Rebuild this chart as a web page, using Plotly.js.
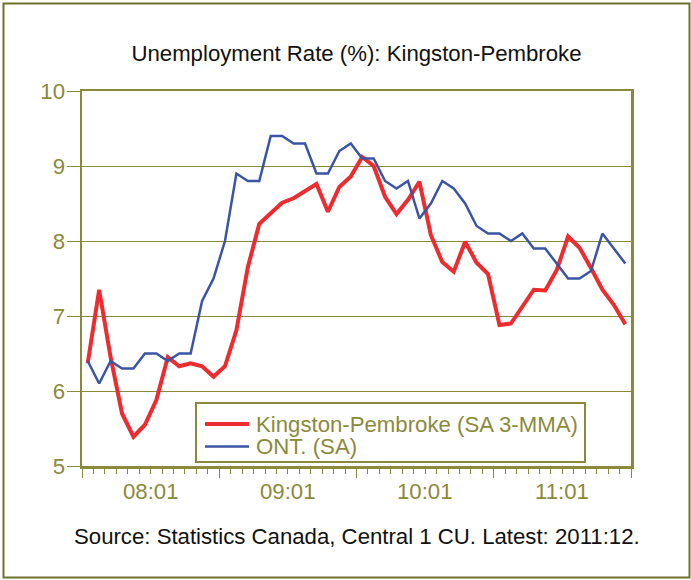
<!DOCTYPE html>
<html>
<head>
<meta charset="utf-8">
<script src="https://cdn.plot.ly/plotly-3.0.1.min.js"></script>
<style>
  html, body { margin: 0; padding: 0; background: #ffffff; }
  #chart { width: 691px; height: 580px; }
</style>
</head>
<body>
<div id="chart"></div>
<script>
// Monthly categories, 2008:01 .. 2011:12
const months = [
  '08:01','08:02','08:03','08:04','08:05','08:06','08:07','08:08','08:09','08:10','08:11','08:12',
  '09:01','09:02','09:03','09:04','09:05','09:06','09:07','09:08','09:09','09:10','09:11','09:12',
  '10:01','10:02','10:03','10:04','10:05','10:06','10:07','10:08','10:09','10:10','10:11','10:12',
  '11:01','11:02','11:03','11:04','11:05','11:06','11:07','11:08','11:09','11:10','11:11','11:12'
];
const tickLabels = ['08:01','09:01','10:01','11:01'];
const seriesNames = ['Kingston-Pembroke (SA 3-MMA)', 'ONT. (SA)'];

const kingston = [
  6.37, 7.35, 6.45, 5.70, 5.39, 5.55, 5.88, 6.45, 6.33, 6.37, 6.33, 6.19,
  6.33, 6.81, 7.65, 8.23, 8.37, 8.51, 8.57, 8.66, 8.76, 8.39, 8.72, 8.86,
  9.12, 9.00, 8.59, 8.36, 8.55, 8.79, 8.08, 7.72, 7.59, 7.99, 7.71, 7.56,
  6.88, 6.90, 7.12, 7.35, 7.34, 7.61, 8.06, 7.91, 7.64, 7.35, 7.15, 6.89
];
const ontario = [
  6.4, 6.1, 6.4, 6.3, 6.3, 6.5, 6.5, 6.4, 6.5, 6.5, 7.2, 7.5,
  8.0, 8.9, 8.8, 8.8, 9.4, 9.4, 9.3, 9.3, 8.9, 8.9, 9.2, 9.3,
  9.1, 9.1, 8.8, 8.7, 8.8, 8.3, 8.5, 8.8, 8.7, 8.5, 8.2, 8.1,
  8.1, 8.0, 8.1, 7.9, 7.9, 7.7, 7.5, 7.5, 7.6, 8.1, 7.9, 7.7
];

const OLIVE = '#8B8A3B';
const FRAME = '#6F702C';
const RED = '#EE2B2E';
const BLUE = '#3A55A6';
const FONT = 'Liberation Sans, Arial, sans-serif';
const FS = 22.2;

const xIdx = months.map((m, i) => i);
const n = months.length;
const yearStarts = tickLabels.map(l => months.indexOf(l));
const boundaries = yearStarts.map(i => i - 0.5).concat([n - 0.5]);
const labelPos = yearStarts.map(i => i + 5.5);

// pixel -> paper helpers (plot area: x 82..631, y 91..466)
const PL = 82, PW = 549, PB = 466, PH = 375;
const px = v => (v - PL) / PW;
const py = v => (PB - v) / PH;

const traces = [
  {
    x: xIdx, y: kingston, type: 'scatter', mode: 'lines',
    name: seriesNames[0], line: { color: RED, width: 4 }, showlegend: false
  },
  {
    x: xIdx, y: ontario, type: 'scatter', mode: 'lines',
    name: seriesNames[1], line: { color: BLUE, width: 2.5 }, showlegend: false
  }
];

const annotations = [
  {
    text: 'Source: Statistics Canada, Central 1 CU. Latest: 2011:12.',
    xref: 'paper', yref: 'paper', x: 0.5, y: py(536),
    xanchor: 'center', yanchor: 'middle', showarrow: false,
    font: { family: FONT, size: FS, color: '#111111' }
  }
];
// year labels centred under each year of months
labelPos.forEach((p, i) => annotations.push({
  text: tickLabels[i], xref: 'x', yref: 'paper', x: p, y: py(492),
  xanchor: 'center', yanchor: 'middle', showarrow: false,
  font: { family: FONT, size: FS, color: OLIVE }
}));
// legend entries
const legendRowsY = [424, 446.5];
seriesNames.forEach((s, i) => annotations.push({
  text: s, xref: 'paper', yref: 'paper', x: px(254), y: py(legendRowsY[i]),
  xanchor: 'left', yanchor: 'middle', showarrow: false,
  font: { family: FONT, size: FS, color: OLIVE }
}));

const shapes = [
  {
    type: 'rect', xref: 'paper', yref: 'paper',
    x0: px(3.5), x1: px(689.5), y0: py(577.5), y1: py(3.5),
    line: { color: FRAME, width: 2 }, fillcolor: 'rgba(0,0,0,0)', layer: 'below'
  },
  {
    type: 'rect', xref: 'paper', yref: 'paper',
    x0: px(196), x1: px(585), y0: py(462), y1: py(403),
    line: { color: OLIVE, width: 2 }, fillcolor: '#ffffff', layer: 'above'
  },
  {
    type: 'line', xref: 'paper', yref: 'paper',
    x0: px(205), x1: px(249), y0: py(legendRowsY[0]), y1: py(legendRowsY[0]),
    line: { color: RED, width: 4 }
  },
  {
    type: 'line', xref: 'paper', yref: 'paper',
    x0: px(205), x1: px(249), y0: py(legendRowsY[1]), y1: py(legendRowsY[1]),
    line: { color: BLUE, width: 2.5 }
  }
];

const layout = {
  width: 691, height: 580,
  margin: { l: 82, r: 60, t: 91, b: 114 },
  paper_bgcolor: '#ffffff', plot_bgcolor: '#ffffff',
  font: { family: FONT, color: OLIVE, size: FS },
  title: {
    text: 'Unemployment Rate (%): Kingston-Pembroke',
    font: { family: FONT, size: FS, color: '#111111' },
    xref: 'paper', x: 0.5, xanchor: 'center',
    yref: 'container', y: 1 - 53 / 580, yanchor: 'middle'
  },
  showlegend: false,
  xaxis: {
    range: [-0.5, n - 0.5],
    tickmode: 'array', tickvals: boundaries, ticktext: boundaries.map(() => ''),
    ticks: 'outside', ticklen: 9, tickwidth: 1, tickcolor: OLIVE,
    minor: { ticks: 'outside', tickmode: 'linear', tick0: -0.5, dtick: 1, ticklen: 5, tickwidth: 1, tickcolor: OLIVE, showgrid: false },
    showline: true, linecolor: OLIVE, linewidth: 2.5, mirror: true,
    showgrid: false, zeroline: false
  },
  yaxis: {
    range: [5, 10], tickmode: 'linear', tick0: 5, dtick: 1,
    ticks: 'outside', ticklen: 13, tickwidth: 1, tickcolor: OLIVE,
    showgrid: true, gridcolor: OLIVE, gridwidth: 1,
    showline: true, linecolor: OLIVE, linewidth: 2.5, mirror: true,
    zeroline: false,
    tickfont: { family: FONT, size: FS, color: OLIVE },
    ticklabelstandoff: -3
  },
  annotations: annotations,
  shapes: shapes
};

Plotly.newPlot('chart', traces, layout, { staticPlot: true, displayModeBar: false });
</script>
</body>
</html>
